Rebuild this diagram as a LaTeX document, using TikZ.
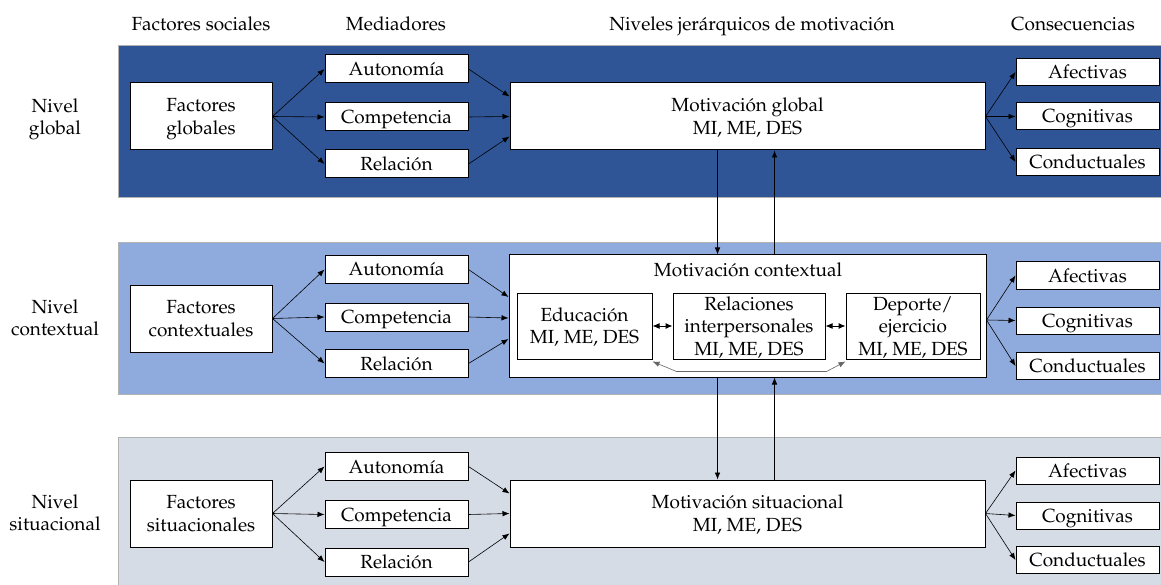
\documentclass[tikz,border=0pt]{standalone}
\usepackage[T1]{fontenc}
\usepackage{mathpazo}
\usepackage{tikz}
\usetikzlibrary{arrows.meta}

\definecolor{globalblue}{HTML}{2F5597}
\definecolor{ctxblue}{HTML}{8FAADC}
\definecolor{sitgray}{HTML}{D6DCE5}
\newcommand{\txtsize}{\fontsize{19}{22.5}\selectfont}

\begin{document}
\begin{tikzpicture}[x=1pt, y=-1pt,
  box/.style={draw, fill=white, line width=1pt, align=center, inner sep=0pt, font=\txtsize,
    text height=13pt, text depth=0pt},
  two/.style={text height=35.5pt},
  three/.style={text height=58pt},
  fac/.style={box, two, minimum width=142pt, minimum height=67pt},
  med/.style={box, minimum width=143pt, minimum height=28pt},
  cons/.style={box, minimum width=143pt, minimum height=27pt},
  mot/.style={box, two, minimum width=475pt, minimum height=67pt},
  sub/.style={box, minimum height=66pt},
  lbl/.style={align=center, inner sep=0pt, font=\txtsize, text height=13pt, text depth=0pt},
  arr/.style={-{Latex[length=7pt,width=5.5pt]}, line width=0.6pt},
  dblarr/.style={{Latex[length=7pt,width=6pt]}-{Latex[length=7pt,width=6pt]}, line width=1pt},
  band/.style={draw=gray!60, line width=0.8pt}]
  \useasboundingbox (0,0) rectangle (1161,585);

  % Bands for the three levels
  \fill[globalblue, band] (118,45) rectangle (1161,197);
  \fill[ctxblue, band] (118,242) rectangle (1161,394);
  \fill[sitgray, band] (118,437) rectangle (1161,585);

  % Column headers
  \node[lbl] (hFac) at (201,24) {Factores sociales};
  \node[lbl] (hMed) at (396,24) {Mediadores};
  \node[lbl] (hNiv) at (752,24) {Niveles jer\'arquicos de motivaci\'on};
  \node[lbl] (hCon) at (1073,24) {Consecuencias};

  % Level global
  \node[lbl, two] (lGlob) at (55,117) {Nivel\\global};
  \node[fac] (fGlob) at (201,116.5) {Factores\\globales};
  \node[med] (aGlob) at (396.5,69) {Autonom\'{\i}a};
  \node[med] (cGlob) at (396.5,117) {Competencia};
  \node[med] (rGlob) at (396.5,164) {Relaci\'on};
  \node[mot] (mGlob) at (747.5,116.5) {Motivaci\'on global\\MI, ME, DES};
  \node[cons] (afGlob) at (1087.5,72) {Afectivas};
  \node[cons] (cogGlob) at (1087.5,116.5) {Cognitivas};
  \node[cons] (conGlob) at (1087.5,162) {Conductuales};

  \draw[arr] (fGlob.east) -- (aGlob.west);
  \draw[arr] (fGlob.east) -- (cGlob.west);
  \draw[arr] (fGlob.east) -- (rGlob.west);
  \draw[arr] (aGlob.east) -- ([yshift=20pt]mGlob.west);
  \draw[arr] (cGlob.east) -- (mGlob.west);
  \draw[arr] (rGlob.east) -- ([yshift=-20pt]mGlob.west);
  \draw[arr] (mGlob.east) -- (afGlob.west);
  \draw[arr] (mGlob.east) -- (cogGlob.west);
  \draw[arr] (mGlob.east) -- (conGlob.west);

  % Level contextual
  \node[lbl, two] (lCtx) at (55,318) {Nivel\\contextual};
  \node[fac] (fCtx) at (201,318.5) {Factores\\contextuales};
  \node[med] (aCtx) at (396.5,269.5) {Autonom\'{\i}a};
  \node[med] (cCtx) at (396.5,317) {Competencia};
  \node[med] (rCtx) at (396.5,363.5) {Relaci\'on};
  \node[box, minimum width=477pt, minimum height=122pt] (mCtx) at (747.5,316) {};
  \node[lbl] (tCtx) at (748,270) {Motivaci\'on contextual};
  \node[sub, two, minimum width=135pt] (edu) at (584.5,326) {Educaci\'on\\MI, ME, DES};
  \node[sub, three, minimum width=152pt] (rel) at (749,326) {Relaciones\\interpersonales\\MI, ME, DES};
  \node[sub, three, minimum width=134pt] (dep) at (913,326) {Deporte/\\ejercicio\\MI, ME, DES};
  \node[cons] (afCtx) at (1087.5,275.5) {Afectivas};
  \node[cons] (cogCtx) at (1087.5,320.5) {Cognitivas};
  \node[cons] (conCtx) at (1087.5,366) {Conductuales};

  \draw[arr] (fCtx.east) -- (aCtx.west);
  \draw[arr] (fCtx.east) -- (cCtx.west);
  \draw[arr] (fCtx.east) -- (rCtx.west);
  \draw[arr] (aCtx.east) -- ([yshift=19pt]mCtx.west);
  \draw[arr] (cCtx.east) -- ([yshift=-2pt]mCtx.west);
  \draw[arr] (rCtx.east) -- ([yshift=-23pt]mCtx.west);
  \draw[dblarr] (edu.east) -- (rel.west);
  \draw[dblarr] (rel.east) -- (dep.west);
  \draw[arr, {Latex[length=7pt,width=5.5pt]}-{Latex[length=7pt,width=5.5pt]}, draw=gray!80!black]
    ([yshift=-2pt]edu.south east) -- ([xshift=24pt,yshift=-12pt]edu.south east)
    -- ([xshift=-19pt,yshift=-12pt]dep.south west) -- ([yshift=-2pt]dep.south west);
  \draw[arr] ([yshift=-4pt]mCtx.east) -- (afCtx.west);
  \draw[arr] ([yshift=-4pt]mCtx.east) -- (cogCtx.west);
  \draw[arr] ([yshift=-4pt]mCtx.east) -- (conCtx.west);

  % Level situacional
  \node[lbl, two] (lSit) at (55,513) {Nivel\\situacional};
  \node[fac] (fSit) at (201,513.5) {Factores\\situacionales};
  \node[med] (aSit) at (396.5,466.5) {Autonom\'{\i}a};
  \node[med] (cSit) at (396.5,514.5) {Competencia};
  \node[med] (rSit) at (396.5,562) {Relaci\'on};
  \node[mot] (mSit) at (747.5,513.5) {Motivaci\'on situacional\\MI, ME, DES};
  \node[cons] (afSit) at (1087.5,470.5) {Afectivas};
  \node[cons] (cogSit) at (1087.5,515.5) {Cognitivas};
  \node[cons] (conSit) at (1087.5,560) {Conductuales};

  \draw[arr] (fSit.east) -- (aSit.west);
  \draw[arr] (fSit.east) -- (cSit.west);
  \draw[arr] (fSit.east) -- (rSit.west);
  \draw[arr] (aSit.east) -- ([yshift=20pt]mSit.west);
  \draw[arr] (cSit.east) -- (mSit.west);
  \draw[arr] (rSit.east) -- ([yshift=-20pt]mSit.west);
  \draw[arr] (mSit.east) -- (afSit.west);
  \draw[arr] (mSit.east) -- (cogSit.west);
  \draw[arr] (mSit.east) -- (conSit.west);

  % Links between levels
  \draw[arr] ([xshift=-30pt]mGlob.south) -- ([xshift=-30pt]mCtx.north);
  \draw[arr] ([xshift=27pt]mCtx.north) -- ([xshift=27pt]mGlob.south);
  \draw[arr] ([xshift=-30pt]mCtx.south) -- ([xshift=-30pt]mSit.north);
  \draw[arr] ([xshift=27pt]mSit.north) -- ([xshift=27pt]mCtx.south);
\end{tikzpicture}
\end{document}
